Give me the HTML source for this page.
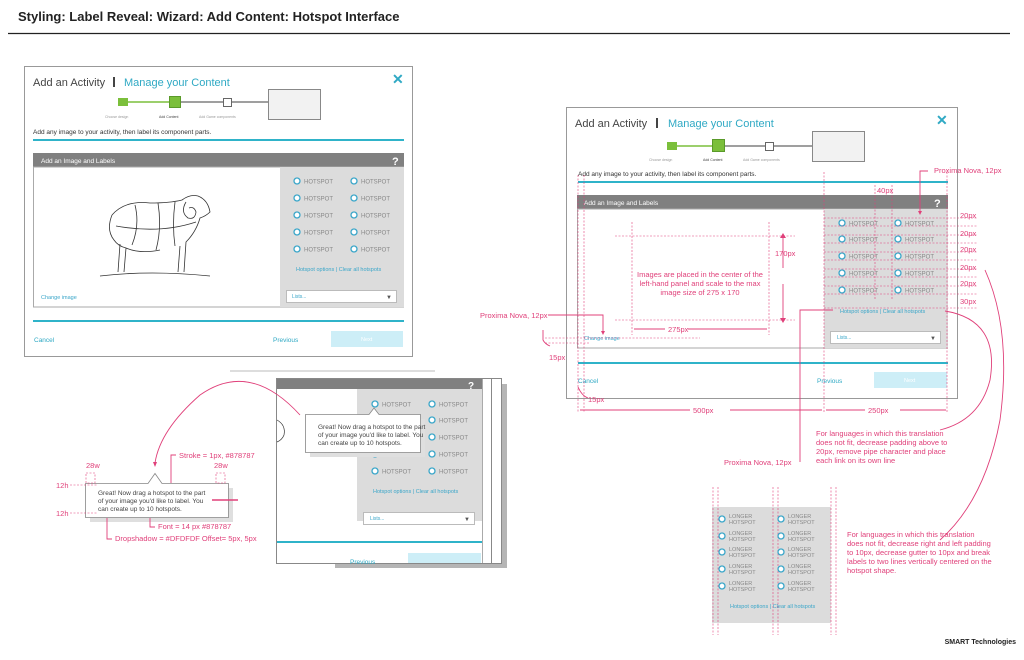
<!DOCTYPE html>
<html><head><meta charset="utf-8"><style>
html,body{margin:0;padding:0;background:#fff;}
svg{display:block;font-family:"Liberation Sans",sans-serif;}
</style></head><body>
<svg width="1024" height="660" viewBox="0 0 1024 660" xmlns="http://www.w3.org/2000/svg">
<defs>
<g id="hs"><circle cx="0" cy="0" r="3" fill="#fff" stroke="#3aa6c9" stroke-width="1.3"/><text x="7" y="2.5" font-size="6" fill="#888">HOTSPOT</text></g>
<g id="lhs"><circle cx="0" cy="0" r="3" fill="#fff" stroke="#3aa6c9" stroke-width="1.3"/><text x="7" y="-1" font-size="5.5" fill="#888">LONGER</text><text x="7" y="5" font-size="5.5" fill="#888">HOTSPOT</text></g>
</defs>
<rect width="1024" height="660" fill="#fff"/>
<text x="18" y="21" font-size="13" font-weight="bold" fill="#222">Styling: Label Reveal: Wizard: Add Content: Hotspot Interface</text>
<line x1="8" y1="33.5" x2="1010" y2="33.5" stroke="#222" stroke-width="1.2"/>

<!-- LEFT DIALOG -->
<rect x="24.5" y="66.5" width="388" height="290" fill="#fff" stroke="#999"/>
<text x="33" y="86" font-size="11" fill="#444">Add an Activity</text>
<rect x="113" y="77" width="2" height="10" fill="#444"/>
<text x="124" y="86" font-size="11" fill="#2fa9c4">Manage your Content</text>
<text x="392" y="84" font-size="14" font-weight="bold" fill="#2fa9c4">✕</text>
<line x1="126" y1="102" x2="175" y2="102" stroke="#7bbf3b" stroke-width="1.5"/>
<line x1="175" y1="102" x2="268" y2="102" stroke="#666" stroke-width="1.2"/>
<rect x="118" y="98" width="10" height="8" fill="#7bbf3b"/>
<rect x="169.5" y="96.5" width="11" height="11" fill="#7bbf3b" stroke="#5a9a2a"/>
<rect x="223.5" y="98.5" width="8" height="8" fill="#fff" stroke="#666"/>
<rect x="268.5" y="89.5" width="52" height="30" fill="#f2f2f2" stroke="#888"/>
<text x="105" y="118" font-size="3.5" fill="#999">Choose design</text>
<text x="159" y="118" font-size="3.5" fill="#444">Add Content</text>
<text x="199" y="118" font-size="3.5" fill="#999">Add Game components</text>
<text x="33" y="134" font-size="6.5" fill="#333">Add any image to your activity, then label its component parts.</text>
<rect x="33" y="139" width="371" height="2" fill="#2fb3c9"/>
<rect x="33" y="153" width="371" height="14" fill="#808080"/>
<text x="41" y="163" font-size="6.5" fill="#fff">Add an Image and Labels</text>
<text x="392" y="165" font-size="11" font-weight="bold" fill="#fff">?</text>
<rect x="33.5" y="167" width="370" height="140" fill="#fff" stroke="#aaa"/>
<rect x="280" y="167" width="124" height="140" fill="#dcdcdc"/>
<use href="#hs" x="297" y="181"/><use href="#hs" x="354" y="181"/>
<use href="#hs" x="297" y="198"/><use href="#hs" x="354" y="198"/>
<use href="#hs" x="297" y="215"/><use href="#hs" x="354" y="215"/>
<use href="#hs" x="297" y="232"/><use href="#hs" x="354" y="232"/>
<use href="#hs" x="297" y="249"/><use href="#hs" x="354" y="249"/>
<text x="296" y="271" font-size="5.5" fill="#3aa6c9">Hotspot options | Clear all hotspots</text>
<rect x="286.5" y="290.5" width="110" height="12" fill="#fff" stroke="#bbb"/>
<text x="292" y="298" font-size="5" fill="#3aa6c9">Lists...</text>
<text x="386" y="299" font-size="6" fill="#555">▼</text>
<text x="41" y="299" font-size="5.5" fill="#3aa6c9">Change image</text>
<!-- sheep -->
<g fill="none" stroke="#333" stroke-width="0.8">
<path d="M112 215 Q125 200 150 203 Q170 203 182 200 Q190 194 198 196 Q208 200 210 212 Q206 216 200 218 Q196 232 186 242 L184 272 M180 246 L178 272 M160 250 Q140 254 126 248 L124 272 M120 244 L118 272 M112 215 Q106 230 114 240 Q118 246 126 248"/>
<path d="M135 205 Q140 225 132 245 M158 203 Q162 228 156 250 M175 202 Q172 225 175 246 M116 226 Q160 234 196 222"/>
<path d="M186 202 Q180 212 188 218 Q195 220 196 212 Q194 206 189 208"/>
<path d="M100 276 Q150 270 210 276"/>
</g>
<rect x="33" y="320" width="371" height="2" fill="#2fb3c9"/>
<text x="34" y="342" font-size="6.5" fill="#2fa9c4">Cancel</text>
<text x="273" y="342" font-size="6.5" fill="#2fa9c4">Previous</text>
<rect x="331" y="331" width="72" height="16" fill="#cdeef7"/>
<text x="361" y="341" font-size="5.5" fill="#fff">Next</text>

<!-- RIGHT DIALOG -->
<rect x="566.5" y="107.5" width="391" height="291" fill="#fff" stroke="#999"/>
<text x="575" y="127" font-size="11" fill="#444">Add an Activity</text>
<rect x="656" y="118" width="2" height="10" fill="#444"/>
<text x="668" y="127" font-size="11" fill="#2fa9c4">Manage your Content</text>
<text x="936" y="125" font-size="14" font-weight="bold" fill="#2fa9c4">✕</text>
<line x1="676" y1="146" x2="718" y2="146" stroke="#7bbf3b" stroke-width="1.5"/>
<line x1="718" y1="146" x2="812" y2="146" stroke="#666" stroke-width="1.2"/>
<rect x="667" y="142" width="10" height="8" fill="#7bbf3b"/>
<rect x="712.5" y="139.5" width="12" height="12" fill="#7bbf3b" stroke="#5a9a2a"/>
<rect x="765.5" y="142.5" width="8" height="8" fill="#fff" stroke="#666"/>
<rect x="812.5" y="131.5" width="52" height="30" fill="#f2f2f2" stroke="#888"/>
<text x="649" y="161" font-size="3.5" fill="#999">Choose design</text>
<text x="703" y="161" font-size="3.5" fill="#444">Add Content</text>
<text x="743" y="161" font-size="3.5" fill="#999">Add Game components</text>
<text x="578" y="176" font-size="6.5" fill="#333">Add any image to your activity, then label its component parts.</text>
<rect x="578" y="181" width="370" height="2" fill="#2fb3c9"/>
<rect x="577" y="195" width="371" height="14" fill="#808080"/>
<text x="584" y="205" font-size="6.5" fill="#fff">Add an Image and Labels</text>
<text x="934" y="207" font-size="11" font-weight="bold" fill="#fff">?</text>
<rect x="577.5" y="209" width="370" height="139" fill="#fff" stroke="#aaa"/>
<rect x="824" y="209" width="124" height="139" fill="#dcdcdc"/>
<use href="#hs" x="842" y="223"/><use href="#hs" x="898" y="223"/>
<use href="#hs" x="842" y="239"/><use href="#hs" x="898" y="239"/>
<use href="#hs" x="842" y="256"/><use href="#hs" x="898" y="256"/>
<use href="#hs" x="842" y="273"/><use href="#hs" x="898" y="273"/>
<use href="#hs" x="842" y="290"/><use href="#hs" x="898" y="290"/>
<text x="840" y="313" font-size="5.5" fill="#3aa6c9">Hotspot options | Clear all hotspots</text>
<rect x="830.5" y="331.5" width="110" height="12" fill="#fff" stroke="#bbb"/>
<text x="837" y="339" font-size="5" fill="#3aa6c9">Lists...</text>
<text x="930" y="340" font-size="6" fill="#555">▼</text>
<text x="584" y="340" font-size="5.5" fill="#3aa6c9">Change image</text>
<rect x="578" y="362" width="370" height="2" fill="#2fb3c9"/>
<text x="578" y="383" font-size="6.5" fill="#2fa9c4">Cancel</text>
<text x="817" y="383" font-size="6.5" fill="#2fa9c4">Previous</text>
<rect x="874" y="372" width="73" height="16" fill="#cdeef7"/>
<text x="904" y="382" font-size="5.5" fill="#fff">Next</text>

<!-- right annotations -->
<g stroke="#e0407a" stroke-width="0.6" stroke-dasharray="2,1.5" fill="none">
<line x1="578" y1="175" x2="578" y2="412"/><line x1="584" y1="175" x2="584" y2="412"/>
<line x1="824" y1="172" x2="824" y2="412"/><line x1="947" y1="172" x2="947" y2="412"/>
<line x1="875" y1="185" x2="875" y2="300"/><line x1="892" y1="185" x2="892" y2="300"/>
<line x1="824" y1="218" x2="978" y2="218"/><line x1="824" y1="226" x2="978" y2="226"/>
<line x1="824" y1="235" x2="978" y2="235"/><line x1="824" y1="243" x2="978" y2="243"/>
<line x1="824" y1="252" x2="978" y2="252"/><line x1="824" y1="260" x2="978" y2="260"/>
<line x1="824" y1="269" x2="978" y2="269"/><line x1="824" y1="277" x2="978" y2="277"/>
<line x1="824" y1="286" x2="978" y2="286"/><line x1="824" y1="294" x2="978" y2="294"/>
<line x1="824" y1="308" x2="978" y2="308"/>
<line x1="615" y1="236" x2="795" y2="236"/><line x1="615" y1="320" x2="795" y2="320"/>
<line x1="632" y1="222" x2="632" y2="335"/><line x1="769" y1="222" x2="769" y2="335"/>
<line x1="545" y1="338" x2="700" y2="338"/><line x1="545" y1="343" x2="590" y2="343"/>
</g>
<g stroke="#e0407a" stroke-width="0.9" fill="none">
<line x1="580" y1="410" x2="690" y2="410"/><line x1="730" y1="410" x2="822" y2="410"/>
<line x1="826" y1="410" x2="865" y2="410"/><line x1="900" y1="410" x2="946" y2="410"/>
<line x1="634" y1="329" x2="665" y2="329"/><line x1="688" y1="329" x2="767" y2="329"/>
<line x1="783" y1="238" x2="783" y2="268"/><line x1="783" y1="284" x2="783" y2="318"/>
<polyline points="548,315 603,315 603,332"/>
<polyline points="928,171 920,171 920,213"/>
<polyline points="800,462 800,310 833,310"/>
<path d="M543 330 L543 340 Q545 344 550 346"/>
<path d="M578 387 Q582 396 588 398"/>
<path d="M945 311 Q1000 320 990 380 Q980 420 940 430"/>
<path d="M985 270 Q1012 330 1000 420 Q985 500 940 540"/>
</g>
<g fill="#e0407a" font-size="7.5">
<text x="934" y="173">Proxima Nova, 12px</text>
<text x="877" y="193">40px</text>
<text x="960" y="218">20px</text><text x="960" y="236">20px</text><text x="960" y="252">20px</text>
<text x="960" y="270">20px</text><text x="960" y="286">20px</text><text x="960" y="304">30px</text>
<text x="775" y="256">170px</text>
<text x="668" y="332">275px</text>
<text x="693" y="413">500px</text><text x="868" y="413">250px</text>
<text x="549" y="360">15px</text><text x="588" y="402">15px</text>
<text x="480" y="318">Proxima Nova, 12px</text>
<text x="724" y="465">Proxima Nova, 12px</text>
<text x="700" y="277" text-anchor="middle">Images are placed in the center of the</text>
<text x="700" y="286" text-anchor="middle">left-hand panel and scale to the max</text>
<text x="700" y="295" text-anchor="middle">image size of 275 x 170</text>
<text x="816" y="436">For languages in which this translation</text>
<text x="816" y="445">does not fit, decrease padding above to</text>
<text x="816" y="454">20px, remove pipe character and place</text>
<text x="816" y="463">each link on its own line</text>
<text x="847" y="537">For languages in which this translation</text>
<text x="847" y="546">does not fit, decrease right and left padding</text>
<text x="847" y="555">to 10px, decrease gutter to 10px and break</text>
<text x="847" y="564">labels to two lines vertically centered on the</text>
<text x="847" y="573">hotspot shape.</text>
</g>
<polygon points="780,238 783,233 786,238" fill="#e0407a"/><polygon points="780,318 783,323 786,318" fill="#e0407a"/>
<polygon points="601,331 603,335 605,331" fill="#e0407a"/><polygon points="918,211 920,215 922,211" fill="#e0407a"/>

<!-- bottom right longer panel -->
<rect x="712" y="507" width="119" height="116" fill="#dcdcdc"/>
<g stroke="#e0407a" stroke-width="0.6" stroke-dasharray="2,1.5">
<line x1="713" y1="487" x2="713" y2="635"/><line x1="718" y1="487" x2="718" y2="635"/>
<line x1="773" y1="487" x2="773" y2="635"/><line x1="778" y1="487" x2="778" y2="635"/>
<line x1="831" y1="487" x2="831" y2="635"/><line x1="836" y1="487" x2="836" y2="635"/>
</g>
<use href="#lhs" x="722" y="519"/><use href="#lhs" x="781" y="519"/>
<use href="#lhs" x="722" y="536"/><use href="#lhs" x="781" y="536"/>
<use href="#lhs" x="722" y="552"/><use href="#lhs" x="781" y="552"/>
<use href="#lhs" x="722" y="569"/><use href="#lhs" x="781" y="569"/>
<use href="#lhs" x="722" y="586"/><use href="#lhs" x="781" y="586"/>
<text x="730" y="608" font-size="5.5" fill="#3aa6c9">Hotspot options | Clear all hotspots</text>
<text x="1016" y="644" font-size="7" font-weight="bold" fill="#222" text-anchor="end">SMART Technologies</text>

<!-- bottom middle dialog -->
<line x1="230" y1="371" x2="435" y2="371" stroke="#bbb"/>
<rect x="335" y="384" width="172" height="184" fill="#b5b5b5"/>
<rect x="276.5" y="378.5" width="225" height="185" fill="#fff" stroke="#888"/>
<rect x="277" y="379" width="205" height="10" fill="#808080"/>
<text x="468" y="389" font-size="10" font-weight="bold" fill="#fff">?</text>
<rect x="357" y="389" width="125" height="132" fill="#dcdcdc"/>
<line x1="491.5" y1="379" x2="491.5" y2="563" stroke="#888"/>
<line x1="482.5" y1="379" x2="482.5" y2="563" stroke="#aaa"/>
<use href="#hs" x="375" y="404"/><use href="#hs" x="432" y="404"/>
<use href="#hs" x="432" y="420"/><use href="#hs" x="432" y="437"/>
<use href="#hs" x="375" y="454"/><use href="#hs" x="432" y="454"/>
<use href="#hs" x="375" y="471"/><use href="#hs" x="432" y="471"/>
<text x="373" y="493" font-size="5.5" fill="#3aa6c9">Hotspot options | Clear all hotspots</text>
<rect x="363.5" y="512.5" width="111" height="12" fill="#fff" stroke="#bbb"/>
<text x="370" y="520" font-size="5" fill="#3aa6c9">Lists...</text>
<text x="464" y="521" font-size="6" fill="#555">▼</text>
<path d="M277 420 Q286 425 284 435 Q282 440 277 442" fill="none" stroke="#333" stroke-width="0.7"/>
<rect x="277" y="541" width="205" height="2" fill="#2fb3c9"/>
<text x="350" y="564" font-size="6.5" fill="#2fa9c4">Previous</text>
<rect x="408" y="553" width="73" height="10" fill="#cdeef7"/>
<!-- tooltip mid -->
<rect x="310" y="419" width="115" height="38" fill="#dfdfdf"/>
<path d="M305.5 414.5 L369 414.5 L374 408 L379 414.5 L420.5 414.5 L420.5 452.5 L305.5 452.5 Z" fill="#fff" stroke="#878787" stroke-width="0.8"/>
<text x="318" y="429" font-size="6.5" fill="#444">Great! Now drag a hotspot to the part</text>
<text x="318" y="437" font-size="6.5" fill="#444">of your image you'd like to label. You</text>
<text x="318" y="445" font-size="6.5" fill="#444">can create up to 10 hotspots.</text>

<!-- left tooltip spec -->
<rect x="90" y="488" width="143" height="34" fill="#dfdfdf"/>
<path d="M85.5 483.5 L148 483.5 L155 473.5 L162 483.5 L228.5 483.5 L228.5 517.5 L85.5 517.5 Z" fill="#fff" stroke="#878787" stroke-width="0.8"/>
<text x="98" y="495" font-size="6.5" fill="#444">Great! Now drag a hotspot to the part</text>
<text x="98" y="503" font-size="6.5" fill="#444">of your image you'd like to label. You</text>
<text x="98" y="511" font-size="6.5" fill="#444">can create up to 10 hotspots.</text>
<g stroke="#e0407a" stroke-width="0.6" stroke-dasharray="2,1.5" fill="none">
<rect x="86" y="473" width="9" height="10"/><rect x="216" y="473" width="9" height="10"/>
<line x1="70" y1="485" x2="98" y2="485"/><line x1="70" y1="513" x2="98" y2="513"/>
</g>
<g stroke="#e0407a" stroke-width="0.9" fill="none">
<line x1="212" y1="500" x2="238" y2="500" stroke-width="1.5"/>
<polyline points="171,483 171,455 176,455"/>
<polyline points="150,518 150,527 155,527"/>
<polyline points="107,518 107,539 112,539"/>
<path d="M300 415 Q250 360 200 395 Q160 430 155 463"/>
</g>
<polygon points="153,462 155,467 157,462" fill="#e0407a"/>
<g fill="#e0407a" font-size="7.5">
<text x="179" y="458">Stroke = 1px, #878787</text>
<text x="86" y="468">28w</text><text x="214" y="468">28w</text>
<text x="56" y="488">12h</text><text x="56" y="516">12h</text>
<text x="158" y="529">Font = 14 px   #878787</text>
<text x="115" y="541">Dropshadow = #DFDFDF   Offset= 5px, 5px</text>
</g>
</svg>
</body></html>
